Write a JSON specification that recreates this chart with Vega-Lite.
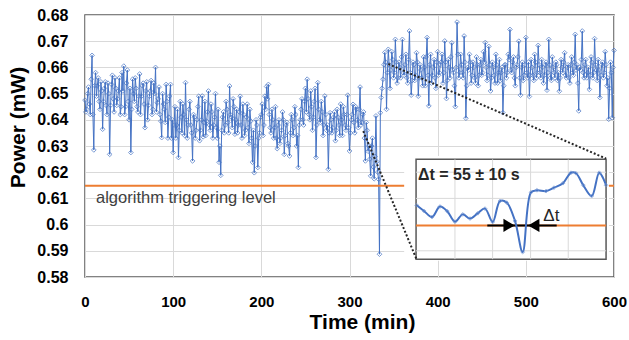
{
  "$schema": "https://vega.github.io/schema/vega-lite/v6.json",
  "width": 529,
  "height": 262,
  "autosize": {"type": "none"},
  "padding": {"left": 85, "top": 15, "right": 15, "bottom": 63},
  "background": "white",
  "config": {
    "view": {"stroke": "#595959", "strokeWidth": 1.5},
    "font": "Liberation Sans",
    "axis": {
      "gridColor": "#d9d9d9", "gridWidth": 1, "domain": false, "ticks": false, "tickSize": 0,
      "labelFlush": false, "labelOverlap": false,
      "labelFont": "Liberation Sans", "labelFontWeight": "bold", "labelColor": "#000000",
      "titleFont": "Liberation Sans", "titleFontWeight": "bold", "titleColor": "#000000"
    }
  },
  "datasets": {
    "main": [
      {"t":0,"p":0.6475},{"t":2,"p":0.644},{"t":4,"p":0.6525},{"t":6,"p":0.642},{"t":8,"p":0.6646},{"t":10,"p":0.6285},{"t":12,"p":0.658},{"t":14,"p":0.653},{"t":16,"p":0.647},{"t":18,"p":0.6545},
      {"t":20,"p":0.6364},{"t":22,"p":0.652},{"t":24,"p":0.6455},{"t":26,"p":0.654},{"t":28,"p":0.6268},{"t":30,"p":0.6535},{"t":32,"p":0.648},{"t":34,"p":0.656},{"t":36,"p":0.6455},{"t":38,"p":0.651},
      {"t":40,"p":0.642},{"t":42,"p":0.658},{"t":44,"p":0.6605},{"t":46,"p":0.645},{"t":48,"p":0.659},{"t":50,"p":0.64},{"t":52,"p":0.6275},{"t":54,"p":0.6555},{"t":56,"p":0.647},{"t":58,"p":0.652},
      {"t":60,"p":0.643},{"t":62,"p":0.6575},{"t":64,"p":0.649},{"t":66,"p":0.654},{"t":68,"p":0.637},{"t":70,"p":0.6545},{"t":72,"p":0.6455},{"t":74,"p":0.651},{"t":76,"p":0.642},{"t":78,"p":0.654},
      {"t":80,"p":0.66},{"t":82,"p":0.6465},{"t":84,"p":0.6525},{"t":86,"p":0.6395},{"t":88,"p":0.65},{"t":90,"p":0.644},{"t":92,"p":0.6535},{"t":94,"p":0.633},{"t":96,"p":0.649},{"t":98,"p":0.633},
      {"t":100,"p":0.6275},{"t":102,"p":0.645},{"t":104,"p":0.638},{"t":106,"p":0.6256},{"t":108,"p":0.647},{"t":110,"p":0.635},{"t":112,"p":0.642},{"t":114,"p":0.6542},{"t":116,"p":0.633},{"t":118,"p":0.644},
      {"t":120,"p":0.638},{"t":122,"p":0.6243},{"t":124,"p":0.641},{"t":126,"p":0.636},{"t":128,"p":0.645},{"t":130,"p":0.632},{"t":132,"p":0.64},{"t":134,"p":0.6335},{"t":136,"p":0.647},{"t":138,"p":0.6395},
      {"t":140,"p":0.651},{"t":142,"p":0.636},{"t":144,"p":0.643},{"t":146,"p":0.638},{"t":148,"p":0.65},{"t":150,"p":0.633},{"t":152,"p":0.6238},{"t":154,"p":0.6188},{"t":156,"p":0.641},{"t":158,"p":0.635},
      {"t":160,"p":0.647},{"t":162,"p":0.639},{"t":164,"p":0.6529},{"t":166,"p":0.641},{"t":168,"p":0.648},{"t":170,"p":0.6345},{"t":172,"p":0.644},{"t":174,"p":0.638},{"t":176,"p":0.649},{"t":178,"p":0.633},
      {"t":180,"p":0.642},{"t":182,"p":0.636},{"t":184,"p":0.646},{"t":186,"p":0.631},{"t":188,"p":0.6395},{"t":190,"p":0.6238},{"t":192,"p":0.6198},{"t":194,"p":0.64},{"t":196,"p":0.6218},{"t":198,"p":0.635},
      {"t":200,"p":0.642},{"t":202,"p":0.634},{"t":204,"p":0.649},{"t":206,"p":0.6527},{"t":208,"p":0.6535},{"t":210,"p":0.637},{"t":212,"p":0.644},{"t":214,"p":0.633},{"t":216,"p":0.645},{"t":218,"p":0.629},
      {"t":220,"p":0.64},{"t":222,"p":0.633},{"t":224,"p":0.643},{"t":226,"p":0.6268},{"t":228,"p":0.638},{"t":230,"p":0.631},{"t":232,"p":0.6262},{"t":234,"p":0.642},{"t":236,"p":0.634},{"t":238,"p":0.645},
      {"t":240,"p":0.63},{"t":242,"p":0.6218},{"t":244,"p":0.64},{"t":246,"p":0.648},{"t":248,"p":0.638},{"t":250,"p":0.652},{"t":252,"p":0.6555},{"t":254,"p":0.642},{"t":256,"p":0.651},{"t":258,"p":0.636},
      {"t":260,"p":0.647},{"t":262,"p":0.6256},{"t":264,"p":0.6542},{"t":266,"p":0.64},{"t":268,"p":0.647},{"t":270,"p":0.634},{"t":272,"p":0.6491},{"t":274,"p":0.636},{"t":276,"p":0.6211},{"t":278,"p":0.6427},
      {"t":280,"p":0.635},{"t":282,"p":0.641},{"t":284,"p":0.632},{"t":286,"p":0.644},{"t":288,"p":0.638},{"t":290,"p":0.646},{"t":292,"p":0.634},{"t":294,"p":0.642},{"t":296,"p":0.636},{"t":298,"p":0.6494},
      {"t":300,"p":0.6281},{"t":302,"p":0.64},{"t":304,"p":0.6459},{"t":306,"p":0.635},{"t":308,"p":0.644},{"t":310,"p":0.637},{"t":312,"p":0.6525},{"t":314,"p":0.639},{"t":316,"p":0.643},{"t":318,"p":0.6243},
      {"t":320,"p":0.636},{"t":322,"p":0.63},{"t":324,"p":0.6186},{"t":326,"p":0.633},{"t":328,"p":0.6175},{"t":330,"p":0.6415},{"t":332,"p":0.62},{"t":333,"p":0.6173},{"t":334,"p":0.5887},{"t":335,"p":0.6427},
      {"t":336,"p":0.6485},{"t":338,"p":0.6555},{"t":340,"p":0.6657},{"t":342,"p":0.644},{"t":344,"p":0.6669},{"t":346,"p":0.652},{"t":348,"p":0.666},{"t":350,"p":0.656},{"t":352,"p":0.6707},{"t":354,"p":0.654},
      {"t":356,"p":0.662},{"t":358,"p":0.656},{"t":360,"p":0.6707},{"t":362,"p":0.657},{"t":364,"p":0.665},{"t":366,"p":0.654},{"t":368,"p":0.6739},{"t":370,"p":0.6494},{"t":372,"p":0.662},{"t":374,"p":0.655},
      {"t":376,"p":0.6656},{"t":378,"p":0.649},{"t":380,"p":0.661},{"t":382,"p":0.656},{"t":384,"p":0.664},{"t":386,"p":0.653},{"t":388,"p":0.6714},{"t":390,"p":0.6453},{"t":392,"p":0.665},{"t":394,"p":0.657},
      {"t":396,"p":0.663},{"t":398,"p":0.652},{"t":400,"p":0.666},{"t":402,"p":0.658},{"t":404,"p":0.662},{"t":406,"p":0.654},{"t":408,"p":0.6701},{"t":410,"p":0.6481},{"t":412,"p":0.663},{"t":414,"p":0.656},
      {"t":416,"p":0.6694},{"t":418,"p":0.658},{"t":420,"p":0.645},{"t":422,"p":0.6773},{"t":424,"p":0.656},{"t":426,"p":0.665},{"t":428,"p":0.658},{"t":430,"p":0.672},{"t":432,"p":0.6406},{"t":434,"p":0.66},
      {"t":436,"p":0.665},{"t":438,"p":0.654},{"t":440,"p":0.662},{"t":442,"p":0.656},{"t":444,"p":0.664},{"t":446,"p":0.653},{"t":448,"p":0.661},{"t":450,"p":0.657},{"t":452,"p":0.666},{"t":454,"p":0.6695},
      {"t":456,"p":0.655},{"t":458,"p":0.668},{"t":460,"p":0.651},{"t":462,"p":0.662},{"t":464,"p":0.657},{"t":466,"p":0.665},{"t":468,"p":0.654},{"t":470,"p":0.663},{"t":472,"p":0.658},{"t":474,"p":0.6427},
      {"t":476,"p":0.661},{"t":478,"p":0.656},{"t":480,"p":0.665},{"t":482,"p":0.6745},{"t":484,"p":0.658},{"t":486,"p":0.664},{"t":488,"p":0.653},{"t":490,"p":0.661},{"t":492,"p":0.67},{"t":494,"p":0.6494},
      {"t":496,"p":0.662},{"t":498,"p":0.657},{"t":500,"p":0.6714},{"t":502,"p":0.656},{"t":504,"p":0.6489},{"t":506,"p":0.663},{"t":508,"p":0.657},{"t":510,"p":0.665},{"t":512,"p":0.656},{"t":514,"p":0.6684},
      {"t":516,"p":0.658},{"t":518,"p":0.663},{"t":520,"p":0.654},{"t":522,"p":0.661},{"t":524,"p":0.6513},{"t":526,"p":0.6707},{"t":528,"p":0.656},{"t":530,"p":0.664},{"t":532,"p":0.658},{"t":534,"p":0.662},
      {"t":536,"p":0.655},{"t":538,"p":0.6509},{"t":540,"p":0.663},{"t":542,"p":0.658},{"t":544,"p":0.6656},{"t":546,"p":0.656},{"t":548,"p":0.661},{"t":550,"p":0.654},{"t":552,"p":0.664},{"t":554,"p":0.657},
      {"t":556,"p":0.6726},{"t":558,"p":0.661},{"t":560,"p":0.6434},{"t":562,"p":0.659},{"t":564,"p":0.6739},{"t":566,"p":0.656},{"t":568,"p":0.663},{"t":570,"p":0.658},{"t":572,"p":0.6516},{"t":574,"p":0.664},
      {"t":576,"p":0.656},{"t":578,"p":0.671},{"t":580,"p":0.659},{"t":582,"p":0.663},{"t":584,"p":0.6485},{"t":586,"p":0.661},{"t":588,"p":0.656},{"t":590,"p":0.666},{"t":592,"p":0.653},{"t":594,"p":0.6402},
      {"t":596,"p":0.662},{"t":598,"p":0.6408},{"t":600,"p":0.6665},
      {"t":1,"p":0.643},{"t":3,"p":0.65},{"t":5,"p":0.646},{"t":7,"p":0.6555},{"t":9,"p":0.642},{"t":11,"p":0.653},{"t":13,"p":0.649},{"t":15,"p":0.656},{"t":17,"p":0.644},{"t":19,"p":0.651},
      {"t":21,"p":0.647},{"t":23,"p":0.6545},{"t":25,"p":0.642},{"t":27,"p":0.65},{"t":29,"p":0.6455},{"t":31,"p":0.657},{"t":33,"p":0.643},{"t":35,"p":0.652},{"t":37,"p":0.648},{"t":39,"p":0.656},
      {"t":41,"p":0.645},{"t":43,"p":0.651},{"t":45,"p":0.642},{"t":47,"p":0.654},{"t":49,"p":0.647},{"t":51,"p":0.652},{"t":53,"p":0.644},{"t":55,"p":0.65},{"t":57,"p":0.656},{"t":59,"p":0.645},
      {"t":61,"p":0.649},{"t":63,"p":0.642},{"t":65,"p":0.653},{"t":67,"p":0.646},{"t":69,"p":0.651},{"t":71,"p":0.64},{"t":73,"p":0.649},{"t":75,"p":0.655},{"t":77,"p":0.644},{"t":79,"p":0.65},
      {"t":81,"p":0.643},{"t":83,"p":0.648},{"t":85,"p":0.642},{"t":87,"p":0.6332},{"t":89,"p":0.646},{"t":91,"p":0.639},{"t":93,"p":0.647},{"t":95,"p":0.641},{"t":97,"p":0.6535},{"t":99,"p":0.64},
      {"t":101,"p":0.638},{"t":103,"p":0.633},{"t":105,"p":0.644},{"t":107,"p":0.636},{"t":109,"p":0.641},{"t":111,"p":0.646},{"t":113,"p":0.634},{"t":115,"p":0.64},{"t":117,"p":0.638},{"t":119,"p":0.647},
      {"t":121,"p":0.635},{"t":123,"p":0.642},{"t":125,"p":0.633},{"t":127,"p":0.64},{"t":129,"p":0.649},{"t":131,"p":0.636},{"t":133,"p":0.6491},{"t":135,"p":0.639},{"t":137,"p":0.634},{"t":139,"p":0.643},
      {"t":141,"p":0.638},{"t":143,"p":0.646},{"t":145,"p":0.633},{"t":147,"p":0.641},{"t":149,"p":0.637},{"t":151,"p":0.644},{"t":153,"p":0.63},{"t":155,"p":0.636},{"t":157,"p":0.643},{"t":159,"p":0.638},
      {"t":161,"p":0.644},{"t":163,"p":0.635},{"t":165,"p":0.642},{"t":167,"p":0.637},{"t":169,"p":0.645},{"t":171,"p":0.64},{"t":173,"p":0.635},{"t":175,"p":0.643},{"t":177,"p":0.638},{"t":179,"p":0.646},
      {"t":181,"p":0.634},{"t":183,"p":0.641},{"t":185,"p":0.637},{"t":187,"p":0.644},{"t":189,"p":0.633},{"t":191,"p":0.636},{"t":193,"p":0.63},{"t":195,"p":0.638},{"t":197,"p":0.633},{"t":199,"p":0.641},
      {"t":201,"p":0.646},{"t":203,"p":0.638},{"t":205,"p":0.644},{"t":207,"p":0.648},{"t":209,"p":0.642},{"t":211,"p":0.635},{"t":213,"p":0.64},{"t":215,"p":0.637},{"t":217,"p":0.633},{"t":219,"p":0.638},
      {"t":221,"p":0.631},{"t":223,"p":0.636},{"t":225,"p":0.64},{"t":227,"p":0.634},{"t":229,"p":0.639},{"t":231,"p":0.63},{"t":233,"p":0.635},{"t":235,"p":0.64},{"t":237,"p":0.637},{"t":239,"p":0.642},
      {"t":241,"p":0.634},{"t":243,"p":0.638},{"t":245,"p":0.644},{"t":247,"p":0.64},{"t":249,"p":0.647},{"t":251,"p":0.643},{"t":253,"p":0.648},{"t":255,"p":0.64},{"t":257,"p":0.645},{"t":259,"p":0.641},
      {"t":261,"p":0.652},{"t":263,"p":0.638},{"t":265,"p":0.644},{"t":267,"p":0.639},{"t":269,"p":0.643},{"t":271,"p":0.638},{"t":273,"p":0.642},{"t":275,"p":0.638},{"t":277,"p":0.635},{"t":279,"p":0.64},
      {"t":281,"p":0.637},{"t":283,"p":0.643},{"t":285,"p":0.636},{"t":287,"p":0.641},{"t":289,"p":0.634},{"t":291,"p":0.64},{"t":293,"p":0.645},{"t":295,"p":0.638},{"t":297,"p":0.642},{"t":299,"p":0.637},
      {"t":301,"p":0.635},{"t":303,"p":0.642},{"t":305,"p":0.639},{"t":307,"p":0.645},{"t":309,"p":0.64},{"t":311,"p":0.644},{"t":313,"p":0.638},{"t":315,"p":0.642},{"t":317,"p":0.633},{"t":319,"p":0.639},
      {"t":321,"p":0.628},{"t":323,"p":0.625},{"t":325,"p":0.63},{"t":327,"p":0.622},{"t":329,"p":0.626},{"t":331,"p":0.624},
      {"t":337,"p":0.652},{"t":339,"p":0.661},{"t":341,"p":0.662},{"t":343,"p":0.658},{"t":345,"p":0.661},{"t":347,"p":0.659},{"t":349,"p":0.663},{"t":351,"p":0.658},{"t":353,"p":0.662},{"t":355,"p":0.656},
      {"t":357,"p":0.66},{"t":359,"p":0.664},{"t":361,"p":0.658},{"t":363,"p":0.661},{"t":365,"p":0.656},{"t":367,"p":0.663},{"t":369,"p":0.658},{"t":371,"p":0.655},{"t":373,"p":0.661},{"t":375,"p":0.657},
      {"t":377,"p":0.662},{"t":379,"p":0.656},{"t":381,"p":0.659},{"t":383,"p":0.653},{"t":385,"p":0.66},{"t":387,"p":0.664},{"t":389,"p":0.657},{"t":391,"p":0.661},{"t":393,"p":0.654},{"t":395,"p":0.66},
      {"t":397,"p":0.656},{"t":399,"p":0.662},{"t":401,"p":0.657},{"t":403,"p":0.661},{"t":405,"p":0.665},{"t":407,"p":0.658},{"t":409,"p":0.662},{"t":411,"p":0.655},{"t":413,"p":0.66},{"t":415,"p":0.664},
      {"t":417,"p":0.659},{"t":419,"p":0.653},{"t":421,"p":0.66},{"t":423,"p":0.665},{"t":425,"p":0.658},{"t":427,"p":0.661},{"t":429,"p":0.656},{"t":431,"p":0.662},{"t":433,"p":0.653},{"t":435,"p":0.659},
      {"t":437,"p":0.662},{"t":439,"p":0.657},{"t":441,"p":0.66},{"t":443,"p":0.654},{"t":445,"p":0.661},{"t":447,"p":0.657},{"t":449,"p":0.663},{"t":451,"p":0.658},{"t":453,"p":0.662},{"t":455,"p":0.66},
      {"t":457,"p":0.657},{"t":459,"p":0.661},{"t":461,"p":0.656},{"t":463,"p":0.66},{"t":465,"p":0.654},{"t":467,"p":0.661},{"t":469,"p":0.658},{"t":471,"p":0.655},{"t":473,"p":0.66},{"t":475,"p":0.653},
      {"t":477,"p":0.661},{"t":479,"p":0.658},{"t":481,"p":0.663},{"t":483,"p":0.659},{"t":485,"p":0.662},{"t":487,"p":0.656},{"t":489,"p":0.66},{"t":491,"p":0.664},{"t":493,"p":0.656},{"t":495,"p":0.66},
      {"t":497,"p":0.655},{"t":499,"p":0.661},{"t":501,"p":0.658},{"t":503,"p":0.662},{"t":505,"p":0.657},{"t":507,"p":0.66},{"t":509,"p":0.655},{"t":511,"p":0.662},{"t":513,"p":0.658},{"t":515,"p":0.661},
      {"t":517,"p":0.656},{"t":519,"p":0.66},{"t":521,"p":0.657},{"t":523,"p":0.662},{"t":525,"p":0.658},{"t":527,"p":0.661},{"t":529,"p":0.655},{"t":531,"p":0.66},{"t":533,"p":0.656},{"t":535,"p":0.661},
      {"t":537,"p":0.658},{"t":539,"p":0.656},{"t":541,"p":0.66},{"t":543,"p":0.662},{"t":545,"p":0.657},{"t":547,"p":0.66},{"t":549,"p":0.656},{"t":551,"p":0.661},{"t":553,"p":0.658},{"t":555,"p":0.662},
      {"t":557,"p":0.659},{"t":559,"p":0.654},{"t":561,"p":0.66},{"t":563,"p":0.663},{"t":565,"p":0.658},{"t":567,"p":0.661},{"t":569,"p":0.656},{"t":571,"p":0.66},{"t":573,"p":0.657},{"t":575,"p":0.662},
      {"t":577,"p":0.658},{"t":579,"p":0.661},{"t":581,"p":0.655},{"t":583,"p":0.659},{"t":585,"p":0.657},{"t":587,"p":0.662},{"t":589,"p":0.658},{"t":591,"p":0.661},{"t":593,"p":0.656},{"t":595,"p":0.652},
      {"t":597,"p":0.658},{"t":599,"p":0.66}
    ],
    "inset": [
      {"t":376.2,"p":0.6074},{"t":384.5,"p":0.6052},{"t":393.6,"p":0.6029},{"t":402.6,"p":0.6069},{"t":410.9,"p":0.6051},
      {"t":419.6,"p":0.6011},{"t":428.4,"p":0.6039},{"t":436.7,"p":0.6023},{"t":445.4,"p":0.6043},{"t":453.7,"p":0.6061},
      {"t":462.4,"p":0.601},{"t":470.7,"p":0.609},{"t":478.3,"p":0.6084},{"t":487.7,"p":0.6014},{"t":496.4,"p":0.5895},
      {"t":505.8,"p":0.6123},{"t":512.6,"p":0.6131},{"t":522.9,"p":0.6128},{"t":531.9,"p":0.6141},{"t":542.1,"p":0.6158},
      {"t":551.2,"p":0.6198},{"t":556.9,"p":0.6196},{"t":565.2,"p":0.615},{"t":574.7,"p":0.6109},{"t":583.3,"p":0.6198},{"t":591.0,"p":0.615}
    ],
    "level": [{"a":0,"b":600,"v":0.6148}],
    "cover": [{"a":362,"b":594.3,"lo":0.5862,"hi":0.6262}],
    "box": [{"a":375.5,"b":591,"lo":0.5868,"hi":0.6249}],
    "ivgrid": [{"a":419.6,"lo":0.5868,"hi":0.6249},{"a":462.3,"lo":0.5868,"hi":0.6249},{"a":505.4,"lo":0.5868,"hi":0.6249},{"a":548.1,"lo":0.5868,"hi":0.6249}],
    "ihgrid": [{"a":375.5,"b":591,"v":0.59},{"a":375.5,"b":591,"v":0.61},{"a":375.5,"b":591,"v":0.62}],
    "ilevel": [{"a":375.5,"b":591,"v":0.5997}],
    "iarrow": [{"a":456.3,"b":535,"v":0.5997}],
    "triR": [{"t":481,"p":0.5997}],
    "triL": [{"t":509,"p":0.5997}],
    "dots": [{"a":315.6,"b":376,"lo":0.6357,"hi":0.5868},{"a":344,"b":591,"lo":0.6613,"hi":0.6252}],
    "lab1": [{"t":12.5,"p":0.6084,"label":"algorithm triggering level"}],
    "lab2": [{"t":377.7,"p":0.6169,"label":"Δt = 55 ± 10 s"}],
    "lab3": [{"t":529,"p":0.6012,"label":"Δt"}]
  },
  "layer": [
    {
      "data": {"name": "main"},
      "mark": {"type": "line", "color": "#4472C4", "strokeWidth": 1},
      "encoding": {
        "x": {"field": "t", "type": "quantitative", "scale": {"domain": [0, 600], "nice": false},
          "axis": {"values": [0,100,200,300,400,500,600], "tickCount": 20, "labelFlush": false, "labelOverlap": false, "labelFontSize": 15, "labelPadding": 17, "title": "Time (min)", "titleFontSize": 21, "titlePadding": 2, "titleX": 277}},
        "y": {"field": "p", "type": "quantitative", "scale": {"domain": [0.58, 0.68], "nice": false, "zero": false},
          "axis": {"values": [0.58,0.59,0.6,0.61,0.62,0.63,0.64,0.65,0.66,0.67,0.68], "tickCount": 20, "labelFlush": false, "labelOverlap": false, "format": ".2~f", "labelFontSize": 16, "labelPadding": 17, "title": "Power (mW)", "titleFontSize": 21, "titlePadding": 8, "titleY": 112}}
      }
    },
    {
      "data": {"name": "main"},
      "mark": {"type": "point", "shape": "diamond", "size": 22, "filled": false, "color": "#4472C4", "strokeWidth": 1},
      "encoding": {"x": {"field": "t", "type": "quantitative"}, "y": {"field": "p", "type": "quantitative"}}
    },
    {
      "data": {"name": "level"},
      "mark": {"type": "rule", "color": "#ED7D31", "strokeWidth": 2},
      "encoding": {"x": {"field": "a", "type": "quantitative"}, "x2": {"field": "b"}, "y": {"field": "v", "type": "quantitative"}}
    },
    {
      "data": {"name": "cover"},
      "mark": {"type": "rect", "fill": "white"},
      "encoding": {"x": {"field": "a", "type": "quantitative"}, "x2": {"field": "b"}, "y": {"field": "lo", "type": "quantitative"}, "y2": {"field": "hi"}}
    },
    {
      "data": {"name": "box"},
      "mark": {"type": "rect", "fill": "white", "stroke": "#595959", "strokeWidth": 1.5},
      "encoding": {"x": {"field": "a", "type": "quantitative"}, "x2": {"field": "b"}, "y": {"field": "lo", "type": "quantitative"}, "y2": {"field": "hi"}}
    },
    {
      "data": {"name": "ivgrid"},
      "mark": {"type": "rule", "color": "#d9d9d9", "strokeWidth": 1},
      "encoding": {"x": {"field": "a", "type": "quantitative"}, "y": {"field": "lo", "type": "quantitative"}, "y2": {"field": "hi"}}
    },
    {
      "data": {"name": "ihgrid"},
      "mark": {"type": "rule", "color": "#d9d9d9", "strokeWidth": 1},
      "encoding": {"x": {"field": "a", "type": "quantitative"}, "x2": {"field": "b"}, "y": {"field": "v", "type": "quantitative"}}
    },
    {
      "data": {"name": "ilevel"},
      "mark": {"type": "rule", "color": "#ED7D31", "strokeWidth": 2},
      "encoding": {"x": {"field": "a", "type": "quantitative"}, "x2": {"field": "b"}, "y": {"field": "v", "type": "quantitative"}}
    },
    {
      "data": {"name": "iarrow"},
      "mark": {"type": "rule", "color": "#000000", "strokeWidth": 2},
      "encoding": {"x": {"field": "a", "type": "quantitative"}, "x2": {"field": "b"}, "y": {"field": "v", "type": "quantitative"}}
    },
    {
      "data": {"name": "triR"},
      "mark": {"type": "point", "shape": "triangle-right", "size": 170, "filled": true, "color": "#000000", "opacity": 1},
      "encoding": {"x": {"field": "t", "type": "quantitative"}, "y": {"field": "p", "type": "quantitative"}}
    },
    {
      "data": {"name": "triL"},
      "mark": {"type": "point", "shape": "triangle-left", "size": 170, "filled": true, "color": "#000000", "opacity": 1},
      "encoding": {"x": {"field": "t", "type": "quantitative"}, "y": {"field": "p", "type": "quantitative"}}
    },
    {
      "data": {"name": "inset"},
      "mark": {"type": "line", "color": "#4472C4", "strokeWidth": 2, "interpolate": "catmull-rom"},
      "encoding": {"x": {"field": "t", "type": "quantitative"}, "y": {"field": "p", "type": "quantitative"}}
    },
    {
      "data": {"name": "inset"},
      "mark": {"type": "point", "shape": "diamond", "size": 14, "filled": false, "color": "#6f93d3", "strokeWidth": 1},
      "encoding": {"x": {"field": "t", "type": "quantitative"}, "y": {"field": "p", "type": "quantitative"}}
    },
    {
      "data": {"name": "dots"},
      "mark": {"type": "rule", "color": "#262626", "strokeWidth": 2, "strokeDash": [2, 2]},
      "encoding": {"x": {"field": "a", "type": "quantitative"}, "x2": {"field": "b"}, "y": {"field": "lo", "type": "quantitative"}, "y2": {"field": "hi"}}
    },
    {
      "data": {"name": "lab1"},
      "mark": {"type": "text", "align": "left", "baseline": "alphabetic", "fontSize": 16.5, "color": "#404040", "font": "Liberation Sans"},
      "encoding": {"x": {"field": "t", "type": "quantitative"}, "y": {"field": "p", "type": "quantitative"}, "text": {"field": "label"}}
    },
    {
      "data": {"name": "lab2"},
      "mark": {"type": "text", "align": "left", "baseline": "alphabetic", "fontSize": 16, "fontWeight": "bold", "color": "#262626", "font": "Liberation Sans"},
      "encoding": {"x": {"field": "t", "type": "quantitative"}, "y": {"field": "p", "type": "quantitative"}, "text": {"field": "label"}}
    },
    {
      "data": {"name": "lab3"},
      "mark": {"type": "text", "align": "center", "baseline": "alphabetic", "fontSize": 17, "color": "#262626", "font": "Liberation Sans"},
      "encoding": {"x": {"field": "t", "type": "quantitative"}, "y": {"field": "p", "type": "quantitative"}, "text": {"field": "label"}}
    }
  ]
}
